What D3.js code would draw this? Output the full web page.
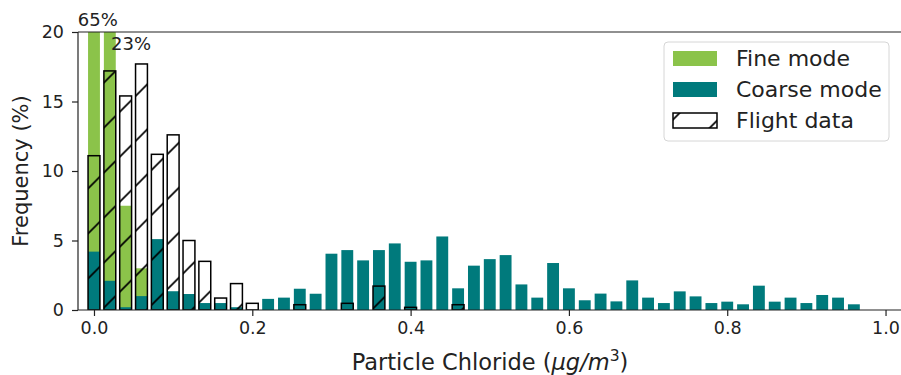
<!DOCTYPE html>
<html>
<head>
<meta charset="utf-8">
<script src="https://cdn.jsdelivr.net/npm/d3@7"></script>
<style>
  body { margin: 0; background: #fff; }
  text { font-family: "DejaVu Sans", sans-serif; fill: #222; }
</style>
</head>
<body>
<div id="chart"></div>
<script>
// Bin positions (Particle Chloride, ug/m3)
const bins = [0.00, 0.02, 0.04, 0.06, 0.08, 0.10, 0.12, 0.14, 0.16, 0.18,
              0.20, 0.22, 0.24, 0.26, 0.28, 0.30, 0.32, 0.34, 0.36, 0.38,
              0.40, 0.42, 0.44, 0.46, 0.48, 0.50, 0.52, 0.54, 0.56, 0.58,
              0.60, 0.62, 0.64, 0.66, 0.68, 0.70, 0.72, 0.74, 0.76, 0.78,
              0.80, 0.82, 0.84, 0.86, 0.88, 0.90, 0.92, 0.94, 0.96];

// Frequency (%) per bin
const fineMode = [65, 23, 7.5, 3.0];
const coarseMode = [4.2, 2.1, 0.2, 1.0, 5.1, 1.35, 1.15, 0.5, 0.5, 0.2,
                    0, 0.8, 0.89, 1.53, 1.17, 4.05, 4.31, 3.57, 4.31, 4.79,
                    3.47, 3.57, 5.29, 1.56, 3.19, 3.66, 3.95, 1.84, 0.89, 3.38,
                    1.56, 0.7, 1.18, 0.62, 2.13, 0.89, 0.5, 1.34, 0.98, 0.5,
                    0.6, 0.41, 1.75, 0.6, 0.89, 0.5, 1.08, 0.89, 0.41];
const flightData = [11.1, 17.2, 15.4, 17.7, 11.2, 12.6, 5.0, 3.5, 0.86, 1.9,
                    0.48, 0, 0, 0.38, 0, 0, 0.48, 0, 1.72, 0,
                    0.19, 0, 0, 0.38];

const xTicks = [0.0, 0.2, 0.4, 0.6, 0.8, 1.0];
const yTicks = [0, 5, 10, 15, 20];
const legendLabels = ["Fine mode", "Coarse mode", "Flight data"];
const annotations = [{text: "65%", x: -0.0205, y: 20.4}, {text: "23%", x: 0.0215, y: 18.7}];

const width = 901, height = 375;
const plot = {left: 78, right: 902, top: 32, bottom: 310};
const barWidth = 0.015;
const green = "#8bc34a", teal = "#007a7c";

const x = d3.scaleLinear().domain([-0.0202, 1.0208]).range([plot.left, plot.right]);
const y = d3.scaleLinear().domain([0, 20]).range([plot.bottom, plot.top]);

const svg = d3.select("#chart").append("svg")
    .attr("width", width)
    .attr("height", height);

const defs = svg.append("defs");
defs.append("clipPath").attr("id", "clip")
    .append("rect")
    .attr("x", plot.left).attr("y", plot.top)
    .attr("width", plot.right - plot.left).attr("height", plot.bottom - plot.top);

// hatch '/' pattern, aligned to the page like matplotlib hatches
const hatch = defs.append("pattern")
    .attr("id", "hatch")
    .attr("patternUnits", "userSpaceOnUse")
    .attr("x", 6.6).attr("y", 0)
    .attr("width", 45).attr("height", 45);
hatch.append("path")
    .attr("d", "M-2,2 L2,-2 M0,45 L45,0 M43,47 L47,43")
    .attr("stroke", "#000")
    .attr("stroke-width", 1.7);

const g = svg.append("g").attr("clip-path", "url(#clip)");

function addBars(values, cls, fill) {
    return g.selectAll("rect." + cls)
        .data(values.map((v, i) => ({bin: bins[i], value: v})).filter(d => d.value > 0))
        .enter().append("rect")
        .attr("class", cls)
        .attr("x", d => x(d.bin - barWidth / 2))
        .attr("width", d => x(d.bin + barWidth / 2) - x(d.bin - barWidth / 2))
        .attr("y", d => y(d.value))
        .attr("height", d => y(0) - y(d.value))
        .attr("fill", fill);
}

addBars(fineMode, "fine", green);
addBars(coarseMode, "coarse", teal);
addBars(flightData, "flight", "url(#hatch)")
    .attr("stroke", "#000")
    .attr("stroke-width", 1.5);

// axes
const xAxis = svg.append("g")
    .attr("transform", `translate(0,${plot.bottom})`)
    .call(d3.axisBottom(x).tickValues(xTicks).tickFormat(d3.format(".1f")).tickSizeInner(6).tickSizeOuter(0).tickPadding(6));
const yAxis = svg.append("g")
    .attr("transform", `translate(${plot.left},0)`)
    .call(d3.axisLeft(y).tickValues(yTicks).tickSizeInner(6).tickSizeOuter(0).tickPadding(8));
[xAxis, yAxis].forEach(a => {
    a.selectAll("text").style("font-size", "17.5px").attr("fill", "#222");
    a.selectAll("line").attr("stroke", "#222").attr("stroke-width", 1.2);
    a.select(".domain").remove();
});

// spines
svg.append("line").attr("x1", plot.left).attr("x2", plot.right).attr("y1", plot.bottom).attr("y2", plot.bottom)
    .attr("stroke", "#222").attr("stroke-width", 1.2);
svg.append("line").attr("x1", plot.left).attr("x2", plot.right).attr("y1", plot.top).attr("y2", plot.top)
    .attr("stroke", "#222").attr("stroke-width", 1.2);
svg.append("line").attr("x1", plot.left).attr("x2", plot.left).attr("y1", plot.top).attr("y2", plot.bottom)
    .attr("stroke", "#222").attr("stroke-width", 1.2);

// annotations for clipped bars
svg.selectAll("text.annot")
    .data(annotations)
    .enter().append("text")
    .attr("class", "annot")
    .attr("x", d => x(d.x))
    .attr("y", d => y(d.y))
    .style("font-size", "18px")
    .text(d => d.text);

// axis labels
const xl = svg.append("text")
    .attr("x", (plot.left + plot.right) / 2)
    .attr("y", 370)
    .attr("text-anchor", "middle")
    .style("font-size", "22.5px");
xl.append("tspan").text("Particle Chloride (");
xl.append("tspan").style("font-style", "italic").text("μg/m");
xl.append("tspan").attr("dy", -9).style("font-size", "15.5px").text("3");
xl.append("tspan").attr("dy", 9).text(")");

svg.append("text")
    .attr("transform", `translate(28,${(plot.top + plot.bottom) / 2}) rotate(-90)`)
    .attr("text-anchor", "middle")
    .style("font-size", "21px")
    .text("Frequency (%)");

// legend
const legend = svg.append("g");
legend.append("rect")
    .attr("x", 664).attr("y", 42)
    .attr("width", 225).attr("height", 99)
    .attr("rx", 4)
    .attr("fill", "#fff").attr("fill-opacity", 0.8)
    .attr("stroke", "#d6d6d6").attr("stroke-width", 1);

const legendFills = [green, teal, "url(#hatch)"];
const legendRows = legend.selectAll("g.row")
    .data(legendLabels)
    .enter().append("g")
    .attr("class", "row")
    .attr("transform", (d, i) => `translate(673,${51 + i * 31})`);
legendRows.append("rect")
    .attr("width", 44).attr("height", 15)
    .attr("fill", (d, i) => legendFills[i])
    .attr("stroke", (d, i) => i === 2 ? "#000" : "none")
    .attr("stroke-width", 1.5);
legendRows.append("text")
    .attr("x", 63).attr("y", 7.5)
    .attr("dominant-baseline", "central")
    .style("font-size", "22px")
    .text(d => d);
</script>
</body>
</html>
